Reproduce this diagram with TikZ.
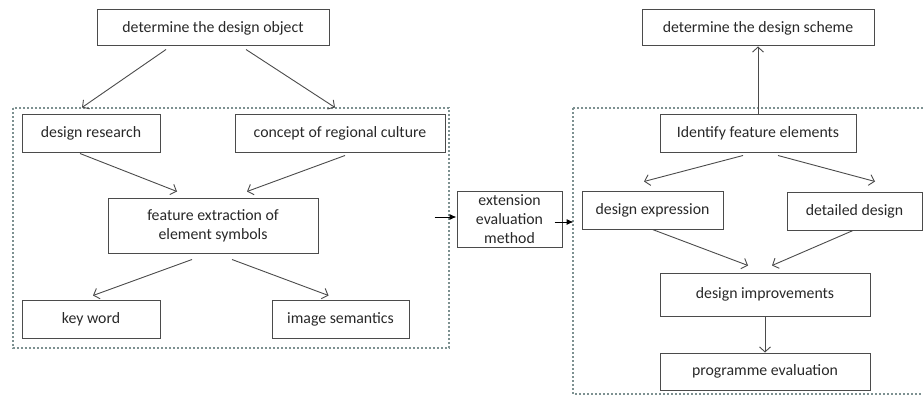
\documentclass[tikz,border=0pt]{standalone}
\usepackage{fontspec}
\setmainfont{Carlito}
\usetikzlibrary{arrows.meta}
\definecolor{framegray}{RGB}{125,145,145}
\definecolor{linegray}{RGB}{75,75,75}
\definecolor{textgray}{RGB}{40,40,40}
\tikzstyle{stepbox} = [rectangle, draw=linegray, line width=1pt, text=textgray, align=center, inner sep=0pt, font=\fontsize{15.8}{19}\selectfont]
\tikzstyle{arrow} = [draw=linegray, line width=0.9pt, -{Straight Barb[length=5pt,width=11pt]}]
\tikzstyle{solidarrow} = [draw=black, line width=1pt, -{Latex[length=7pt,width=6pt]}]
\tikzstyle{groupframe} = [draw=framegray, line width=2pt, dash pattern=on 2pt off 2pt]

\begin{document}
\begin{tikzpicture}[x=1pt,y=-1pt]
    \clip (0,0) rectangle (923,396);
    % dotted groups
    \draw [groupframe] (13,108) rectangle (449,348);
    \draw [groupframe] (573,108) rectangle (950,394);

    % left part
    \node (object) [stepbox, minimum width=232pt, minimum height=36pt] at (213,28) {determine the design object};
    \node (research) [stepbox, minimum width=138pt, minimum height=38pt] at (91,133) {design research};
    \node (culture) [stepbox, minimum width=210pt, minimum height=38pt] at (340,133) {concept of regional culture};
    \node (feature) [stepbox, minimum width=210pt, minimum height=55pt] at (213,225.5) {feature extraction of\\element symbols};
    \node (keyword) [stepbox, minimum width=138pt, minimum height=38pt] at (91,319) {key word};
    \node (semantics) [stepbox, minimum width=137pt, minimum height=38pt] at (340.5,319) {image semantics};

    % middle
    \node (method) [stepbox, minimum width=105pt, minimum height=56pt] at (509.5,219) {extension\\evaluation\\method};

    % right part
    \node (scheme) [stepbox, minimum width=232pt, minimum height=36pt] at (758,28) {determine the design scheme};
    \node (identify) [stepbox, minimum width=196pt, minimum height=38pt] at (758,133) {Identify feature elements};
    \node (expression) [stepbox, minimum width=141pt, minimum height=38pt] at (652.5,210) {design expression};
    \node (detailed) [stepbox, minimum width=135pt, minimum height=38pt] at (854.5,211) {detailed design};
    \node (improve) [stepbox, minimum width=210pt, minimum height=43pt] at (765,294.5) {design improvements};
    \node (programme) [stepbox, minimum width=210pt, minimum height=37pt] at (765,371.5) {programme evaluation};

    \draw [arrow] ([xshift=-47pt,yshift=-3pt]object.south) -- ([xshift=-9pt,yshift=6pt]research.north);
    \draw [arrow] ([xshift=33pt,yshift=-3pt]object.south) -- ([xshift=-5pt,yshift=6pt]culture.north);
    \draw [arrow] ([xshift=-11pt,yshift=-1pt]research.south) -- ([xshift=-36pt,yshift=6pt]feature.north);
    \draw [arrow] ([xshift=5pt,yshift=-3pt]culture.south) -- ([xshift=34pt,yshift=6pt]feature.north);
    \draw [arrow] ([xshift=-21pt,yshift=-6pt]feature.south) -- ([xshift=2pt,yshift=4pt]keyword.north);
    \draw [arrow] ([xshift=19pt,yshift=-6pt]feature.south) -- ([xshift=-12pt,yshift=4pt]semantics.north);

    \draw [solidarrow] ([xshift=-22pt,yshift=2pt]method.west) -- ([yshift=2pt]method.west);
    \draw [solidarrow] ([xshift=-8pt,yshift=-3pt]method.east) -- ([xshift=-8pt,yshift=-12pt]expression.west);

    \draw [arrow] (identify) -- (scheme);
    \draw [arrow] ([xshift=-15pt,yshift=-3pt]identify.south) -- ([xshift=-8.5pt,yshift=9pt]expression.north);
    \draw [arrow] ([xshift=20pt,yshift=-3pt]identify.south) -- ([xshift=20.5pt,yshift=10pt]detailed.north);
    \draw [arrow] (expression.south) -- ([xshift=-17pt,yshift=7pt]improve.north);
    \draw [arrow] ([xshift=-1.5pt]detailed.south) -- ([xshift=7pt,yshift=7pt]improve.north);
    \draw [arrow] (improve) -- (programme);
\end{tikzpicture}
\end{document}
